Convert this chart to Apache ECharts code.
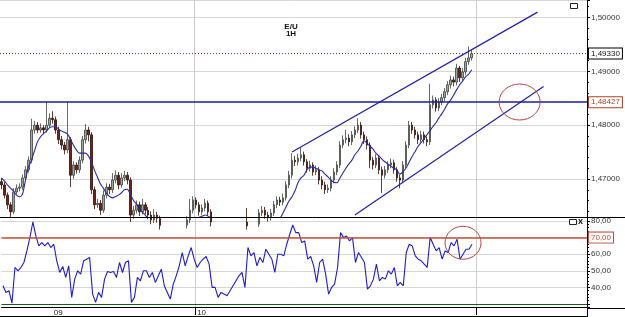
<!DOCTYPE html>
<html><head><meta charset="utf-8">
<script src="https://cdn.jsdelivr.net/npm/echarts@6/dist/echarts.min.js"></script>
<style>html,body{margin:0;padding:0;background:#fff}#c{width:625px;height:317px}</style>
</head><body><div id="c"></div>
<script>
// ---- data ----
const opens=[1.4695,1.4689,1.4670,1.4652,1.4639,1.4676,1.4683,1.4685,1.4702,1.4717,
1.4735,1.4791,1.4800,1.4791,1.4795,1.4791,1.4800,1.4813,1.4810,1.4791,
1.4773,1.4763,1.4754,1.4773,1.4707,1.4726,1.4717,1.4735,1.4773,1.4791,
1.4782,1.4680,1.4652,1.4655,1.4642,1.4670,1.4685,1.4680,1.4698,1.4707,
1.4689,1.4702,1.4707,1.4698,1.4633,1.4642,1.4652,1.4639,1.4652,1.4642,
1.4633,1.4624,1.4633,1.4627,1.4614,1.4609,1.4601,1.4596,1.4601,1.4594,
1.4605,1.4609,1.4614,1.4624,1.4642,1.4661,1.4652,1.4639,1.4646,1.4655,
1.4639,1.4620,1.4609,1.4601,1.4596,1.4605,1.4600,1.4594,1.4590,1.4598,
1.4605,1.4611,1.4620,1.4613,1.4605,1.4609,1.4616,1.4637,1.4642,1.4633,
1.4629,1.4637,1.4652,1.4661,1.4657,1.4665,1.4689,1.4707,1.4735,1.4732,
1.4739,1.4745,1.4732,1.4720,1.4726,1.4713,1.4717,1.4698,1.4689,1.4680,
1.4683,1.4698,1.4713,1.4726,1.4763,1.4773,1.4776,1.4769,1.4782,1.4791,
1.4800,1.4782,1.4773,1.4763,1.4735,1.4726,1.4739,1.4717,1.4707,1.4717,
1.4726,1.4730,1.4717,1.4702,1.4698,1.4726,1.4763,1.4800,1.4791,1.4782,
1.4773,1.4782,1.4773,1.4769,1.4838,1.4847,1.4832,1.4843,1.4851,1.4862,
1.4875,1.4884,1.4880,1.4906,1.4888,1.4899,1.4918,1.4925];
const closes=[1.4689,1.4670,1.4652,1.4639,1.4676,1.4683,1.4685,1.4702,1.4717,1.4735,
1.4791,1.4800,1.4791,1.4795,1.4791,1.4800,1.4813,1.4810,1.4791,1.4773,
1.4763,1.4754,1.4773,1.4707,1.4726,1.4717,1.4735,1.4773,1.4791,1.4782,
1.4680,1.4652,1.4655,1.4642,1.4670,1.4685,1.4680,1.4698,1.4707,1.4689,
1.4702,1.4707,1.4698,1.4633,1.4642,1.4652,1.4639,1.4652,1.4642,1.4633,
1.4624,1.4633,1.4627,1.4614,1.4609,1.4601,1.4596,1.4601,1.4594,1.4605,
1.4609,1.4614,1.4624,1.4642,1.4661,1.4652,1.4639,1.4646,1.4655,1.4639,
1.4620,1.4609,1.4601,1.4596,1.4605,1.4600,1.4594,1.4590,1.4598,1.4605,
1.4611,1.4620,1.4613,1.4605,1.4609,1.4616,1.4637,1.4642,1.4633,1.4629,
1.4637,1.4652,1.4661,1.4657,1.4665,1.4689,1.4707,1.4735,1.4732,1.4739,
1.4745,1.4732,1.4720,1.4726,1.4713,1.4717,1.4698,1.4689,1.4680,1.4683,
1.4698,1.4713,1.4726,1.4763,1.4773,1.4776,1.4769,1.4782,1.4791,1.4800,
1.4782,1.4773,1.4763,1.4735,1.4726,1.4739,1.4717,1.4707,1.4717,1.4726,
1.4730,1.4717,1.4702,1.4698,1.4726,1.4763,1.4800,1.4791,1.4782,1.4773,
1.4782,1.4773,1.4769,1.4838,1.4847,1.4832,1.4843,1.4851,1.4862,1.4875,
1.4884,1.4880,1.4906,1.4888,1.4899,1.4918,1.4925,1.4933];
const lows=[1.4681,1.4664,1.4644,1.4629,1.4635,1.4671,1.4677,1.4680,1.4697,1.4712,
1.4729,1.4784,1.4785,1.4786,1.4784,1.4786,1.4795,1.4803,1.4784,1.4765,
1.4755,1.4746,1.4748,1.4685,1.4700,1.4710,1.4711,1.4729,1.4766,1.4770,
1.4672,1.4644,1.4646,1.4633,1.4637,1.4664,1.4672,1.4674,1.4692,1.4681,
1.4684,1.4696,1.4690,1.4620,1.4626,1.4636,1.4631,1.4634,1.4635,1.4625,
1.4616,1.4618,1.4619,1.4606,1.4601,1.4594,1.4588,1.4590,1.4586,1.4589,
1.4599,1.4603,1.4608,1.4618,1.4636,1.4645,1.4632,1.4633,1.4640,1.4631,
1.4612,1.4601,1.4594,1.4588,1.4590,1.4593,1.4587,1.4582,1.4585,1.4592,
1.4599,1.4605,1.4606,1.4598,1.4599,1.4603,1.4611,1.4631,1.4626,1.4621,
1.4623,1.4631,1.4646,1.4650,1.4651,1.4660,1.4683,1.4701,1.4724,1.4725,
1.4733,1.4725,1.4712,1.4714,1.4706,1.4707,1.4690,1.4681,1.4672,1.4674,
1.4677,1.4692,1.4707,1.4720,1.4757,1.4766,1.4761,1.4763,1.4776,1.4785,
1.4775,1.4765,1.4755,1.4720,1.4718,1.4720,1.4709,1.4674,1.4701,1.4711,
1.4720,1.4710,1.4695,1.4683,1.4692,1.4720,1.4757,1.4784,1.4775,1.4765,
1.4767,1.4766,1.4761,1.4763,1.4831,1.4825,1.4826,1.4837,1.4845,1.4856,
1.4868,1.4872,1.4874,1.4880,1.4882,1.4893,1.4912,1.4920];
const highs=[1.4702,1.4694,1.4675,1.4657,1.4683,1.4690,1.4692,1.4708,1.4724,1.4742,
1.4812,1.4808,1.4806,1.4803,1.4800,1.4843,1.4822,1.4826,1.4816,1.4797,
1.4780,1.4769,1.4843,1.4778,1.4733,1.4731,1.4742,1.4780,1.4802,1.4797,
1.4787,1.4686,1.4663,1.4661,1.4679,1.4692,1.4691,1.4711,1.4716,1.4713,
1.4711,1.4715,1.4713,1.4703,1.4650,1.4660,1.4658,1.4663,1.4657,1.4648,
1.4640,1.4644,1.4639,1.4632,1.4620,1.4615,1.4607,1.4609,1.4607,1.4612,
1.4616,1.4621,1.4631,1.4663,1.4668,1.4666,1.4657,1.4653,1.4663,1.4660,
1.4644,1.4626,1.4615,1.4607,1.4612,1.4611,1.4606,1.4600,1.4605,1.4612,
1.4618,1.4627,1.4646,1.4619,1.4616,1.4624,1.4644,1.4650,1.4648,1.4639,
1.4644,1.4659,1.4668,1.4667,1.4673,1.4696,1.4715,1.4748,1.4743,1.4747,
1.4758,1.4751,1.4737,1.4734,1.4731,1.4725,1.4722,1.4705,1.4695,1.4690,
1.4705,1.4720,1.4733,1.4770,1.4781,1.4791,1.4783,1.4789,1.4798,1.4813,
1.4806,1.4788,1.4779,1.4768,1.4741,1.4746,1.4744,1.4723,1.4724,1.4733,
1.4738,1.4736,1.4722,1.4708,1.4733,1.4770,1.4808,1.4806,1.4797,1.4788,
1.4789,1.4788,1.4779,1.4877,1.4855,1.4852,1.4850,1.4858,1.4869,1.4882,
1.4892,1.4890,1.4914,1.4910,1.4906,1.4925,1.4946,1.4940];
const maValues=[1.4702,1.4696,1.4689,1.4683,1.4678,1.4670,1.4667,1.4672,1.4698,1.4722,
1.4735,1.4752,1.4769,1.4778,1.4784,1.4789,1.4795,1.4797,1.4797,1.4793,
1.4789,1.4787,1.4784,1.4774,1.4763,1.4754,1.4748,1.4748,1.4748,1.4743,
1.4732,1.4717,1.4704,1.4691,1.4683,1.4674,1.4668,1.4665,1.4667,1.4670,
1.4674,1.4680,1.4681,1.4672,1.4661,1.4654,1.4646,1.4639,1.4633,1.4626,
1.4620,1.4616,1.4613,1.4609,1.4605,1.4603,1.4601,1.4601,1.4603,1.4605,
1.4607,1.4611,1.4614,1.4618,1.4622,1.4626,1.4629,1.4631,1.4633,1.4631,
1.4627,1.4622,1.4618,1.4614,1.4611,1.4609,1.4607,1.4605,1.4605,1.4603,
1.4603,1.4605,1.4605,1.4607,1.4607,1.4609,1.4609,1.4611,1.4613,1.4614,
1.4618,1.4620,1.4624,1.4627,1.4637,1.4648,1.4659,1.4667,1.4678,1.4693,
1.4702,1.4707,1.4717,1.4722,1.4722,1.4720,1.4717,1.4715,1.4709,1.4704,
1.4698,1.4694,1.4693,1.4702,1.4711,1.4720,1.4728,1.4735,1.4745,1.4752,
1.4761,1.4771,1.4767,1.4761,1.4756,1.4748,1.4743,1.4737,1.4732,1.4728,
1.4724,1.4720,1.4717,1.4709,1.4713,1.4720,1.4730,1.4741,1.4750,1.4760,
1.4767,1.4774,1.4782,1.4789,1.4797,1.4804,1.4813,1.4821,1.4830,1.4840,
1.4847,1.4856,1.4866,1.4875,1.4882,1.4890,1.4895,1.4903];
const rsiValues=[41,37,38,30.5,52,50,52,55,62,70,
79.4,71,65,67,65,67,64,66,56,49,
52.6,46,53,34,45,50,48,56,57,58,
36,31,37,34,45,49.6,49,49.6,46,55,
49,55,56,31,34,46,44,50,50,46,
49,43,47,51,41,37,33,42,47,53,
61,53,59,64,57,52,55,57,58.6,54,
40,40,34,37,36,35,38,41,44,47,
49,40,64,59,61,53,58,55,63,60,
57,49,60,60,59,66,72,77.6,73,73,
67,68,57,58.6,53,43,55,57,48,36,
40,42,52,73,70,71,68,70,55,61,
58,55,39,41,45,54,44,46,45,50,
48,52,41,43,41,61,66,65,59,57,
56,54,52,70,66,62,64,57,62,61,
67,65,69,57,60,63,63,66];
const slotCount=196;               // hourly slots on the time axis (incl. empty right margin)
const dayLabels=['09','10'];
const dayLabelIndex=[17,65];
const dayDividerIndex=[65,159];
const lastPrice=1.49330;
const levelPrice=1.48427;
const rsiUpper=70, rsiLower=30;
const upperChannel=[[97,1.4750],[179,1.5010]];
const lowerChannel=[[118,1.4633],[181,1.4872]];
const priceEllipseCenter=[173,1.4843];
const rsiEllipseCenter=[154,66.9];
const titleLines=['E/U','1H'];

// ---- build ----
const categories=[];
for(let i=0;i<slotCount;i++){const k=dayLabelIndex.indexOf(i);categories.push(k>=0?dayLabels[k]:'s'+i);}
const ohlc=opens.map((o,i)=>[o,closes[i],lows[i],highs[i]]);
const fmtPrice=v=>v.toFixed(5).replace('.',',');
const FONT='Liberation Sans';
const chart=echarts.init(document.getElementById('c'),null,{renderer:'canvas'});
const divider=(i)=>dayDividerIndex.indexOf(i)>=0;
const boxLabel=(txt,col)=>({show:true,position:'end',distance:2,formatter:txt,color:col==='#000'?'#111':col,
  fontSize:8,fontFamily:FONT,backgroundColor:'#fff',borderColor:col,borderWidth:1,padding:[1,2,0,2],lineHeight:9});
chart.setOption({
  animation:false,
  backgroundColor:'#fff',
  title:{text:titleLines.join('\n'),left:286,top:18,textAlign:'center',
    textStyle:{fontSize:8,fontWeight:'bold',color:'#111',fontFamily:FONT,lineHeight:7}},
  grid:[{left:0,top:0,width:587,height:217},{left:0,top:217,width:587,height:91}],
  xAxis:[
    {type:'category',gridIndex:0,data:categories,boundaryGap:true,
     axisLine:{show:false},axisTick:{show:false},axisLabel:{show:false},
     splitLine:{show:true,interval:divider,lineStyle:{color:'#cccccc',width:1}}},
    {type:'category',gridIndex:1,data:categories,boundaryGap:true,
     axisLine:{show:true,lineStyle:{color:'#000',width:1}},
     axisTick:{show:true,interval:divider,length:8,lineStyle:{color:'#000'}},
     axisLabel:{show:true,interval:0,margin:2,align:'left',fontSize:8,fontFamily:FONT,color:'#222',
       formatter:(v)=>dayLabels.indexOf(v)>=0?v:''},
     splitLine:{show:true,interval:divider,lineStyle:{color:'#cccccc',width:1}}}
  ],
  yAxis:[
    {type:'value',gridIndex:0,position:'right',min:1.46294,max:1.50325,scale:true,
     axisLine:{show:true,lineStyle:{color:'#000'}},
     axisTick:{show:true,length:3,lineStyle:{color:'#000'}},
     minorTick:{show:true,splitNumber:5,length:2,lineStyle:{color:'#000'}},
     axisLabel:{margin:4,fontSize:8,fontFamily:FONT,color:'#333',showMinLabel:false,showMaxLabel:false,
       formatter:v=>Math.abs(v*100-Math.round(v*100))<1e-6?fmtPrice(v):''},
     splitLine:{show:true,lineStyle:{color:'#d6d6d6'}}},
    {type:'value',gridIndex:1,position:'right',min:28.21,max:82.4,
     axisLine:{show:true,lineStyle:{color:'#000'}},
     axisTick:{show:true,length:3,lineStyle:{color:'#000'}},
     minorTick:{show:true,splitNumber:5,length:2,lineStyle:{color:'#000'}},
     axisLabel:{margin:4,fontSize:8,fontFamily:FONT,color:'#333',showMinLabel:false,showMaxLabel:false,
       formatter:v=>(Math.abs(v-Math.round(v/10)*10)>1e-6||v===rsiUpper||v===rsiLower)?'':v.toFixed(2).replace('.',',')},
     splitLine:{show:true,lineStyle:{color:'#d6d6d6'}}}
  ],
  series:[
    {type:'candlestick',xAxisIndex:0,yAxisIndex:0,data:ohlc,barWidth:2,clip:true,
     itemStyle:{color:'#9aaa9a',color0:'#6e241a',borderColor:'#3c443c',borderColor0:'#2e0c08',borderWidth:0.8},
     markLine:{silent:true,symbol:['none','none'],animation:false,precision:5,
       data:[
        {yAxis:levelPrice,lineStyle:{color:'#1c1c9c',width:1.5,type:'solid'},label:boxLabel(fmtPrice(levelPrice),'#a8442e')},
        {yAxis:lastPrice,lineStyle:{color:'#8e3a3a',width:1,type:[1,2]},label:boxLabel(fmtPrice(lastPrice),'#000')},
        [{coord:upperChannel[0],lineStyle:{color:'#2222a0',width:1.2,type:'solid'},label:{show:false}},{coord:upperChannel[1]}],
        [{coord:lowerChannel[0],lineStyle:{color:'#2222a0',width:1.2,type:'solid'},label:{show:false}},{coord:lowerChannel[1]}]
       ]}},
    {type:'line',xAxisIndex:0,yAxisIndex:0,data:maValues,symbol:'none',smooth:0.3,clip:true,
     lineStyle:{color:'#2a2aa8',width:1.1}},
    {type:'line',xAxisIndex:1,yAxisIndex:1,data:rsiValues,symbol:'none',
     lineStyle:{color:'#1e1ec8',width:1.1},
     markLine:{silent:true,symbol:['none','none'],animation:false,precision:2,
       data:[
        {yAxis:rsiUpper,lineStyle:{color:'#c8503a',width:1.5,type:'solid'},label:boxLabel('70,00','#c0503a')},
        {yAxis:rsiLower,lineStyle:{color:'#1e5a1e',width:1.2,type:'solid'},label:{show:false}}
       ]}}
  ]
});
const pc=chart.convertToPixel({gridIndex:0},priceEllipseCenter);
const rc=chart.convertToPixel({gridIndex:1},rsiEllipseCenter);
chart.setOption({graphic:[
  {type:'line',shape:{x1:0,y1:217.5,x2:625,y2:217.5},style:{stroke:'#000',lineWidth:1},z:100},
  {type:'line',shape:{x1:587,y1:308.5,x2:625,y2:308.5},style:{stroke:'#000',lineWidth:1},z:100},
  {type:'line',shape:{x1:0,y1:316.5,x2:588,y2:316.5},style:{stroke:'#000',lineWidth:1},z:100},
  {type:'line',shape:{x1:587.5,y1:308,x2:587.5,y2:317},style:{stroke:'#000',lineWidth:1},z:100},
  {type:'rect',shape:{x:570.5,y:3.5,width:7,height:5},style:{stroke:'#222',fill:'#fff',lineWidth:1},z:100},
  {type:'rect',shape:{x:569.5,y:219.5,width:7,height:5},style:{stroke:'#222',fill:'#fff',lineWidth:1},z:100},
  {type:'text',x:578,y:217,style:{text:'x',fontSize:9,fontWeight:'bold',fill:'#111',fontFamily:FONT},z:100},
  {type:'ellipse',shape:{cx:pc[0],cy:pc[1],rx:20.5,ry:18},style:{stroke:'#b04848',fill:'none',lineWidth:1},z:100},
  {type:'ellipse',shape:{cx:rc[0],cy:rc[1],rx:18,ry:16.5},style:{stroke:'#b04848',fill:'none',lineWidth:1},z:100}
]});
</script></body></html>
